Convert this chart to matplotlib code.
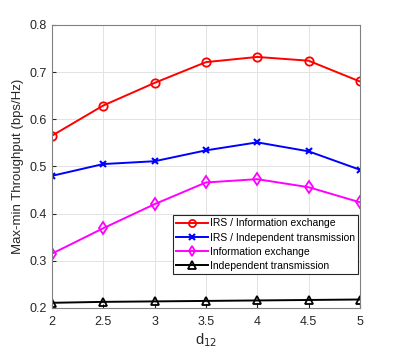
import numpy as np
import matplotlib.pyplot as plt

plt.rcParams['font.family'] = ['Liberation Sans', 'DejaVu Sans']

d12 = [2, 2.5, 3, 3.5, 4, 4.5, 5]
irs_exchange = [0.565, 0.629, 0.677, 0.721, 0.732, 0.724, 0.680]
irs_independent = [0.480, 0.505, 0.511, 0.534, 0.551, 0.532, 0.493]
info_exchange = [0.315, 0.369, 0.420, 0.466, 0.473, 0.456, 0.424]
independent = [0.211, 0.213, 0.214, 0.215, 0.216, 0.217, 0.218]

labels = ['IRS / Information exchange', 'IRS / Independent transmission',
          'Information exchange', 'Independent transmission']
xticks = [2, 2.5, 3, 3.5, 4, 4.5, 5]
yticks = [0.2, 0.3, 0.4, 0.5, 0.6, 0.7, 0.8]

fig = plt.figure(figsize=(3.99, 3.5), dpi=100)
ax = fig.add_axes([0.13, 0.12, 0.772, 0.809])

ax.plot(d12, irs_exchange, '-o', color='red', lw=1.4, ms=6, mfc='none', mew=1.3, label=labels[0])
ax.plot(d12, irs_independent, '-x', color='blue', lw=1.4, ms=5, mew=1.5, label=labels[1])
ax.plot(d12, info_exchange, '-d', color='magenta', lw=1.4, ms=6, mfc='none', mew=1.3, label=labels[2])
ax.plot(d12, independent, '-^', color='black', lw=1.4, ms=6, mfc='none', mew=1.3, label=labels[3])

ax.set_xlim(2, 5)
ax.set_ylim(0.2, 0.8)
ax.set_xticks(xticks)
ax.set_xticklabels(['2', '2.5', '3', '3.5', '4', '4.5', '5'])
ax.set_yticks(yticks)
ax.set_yticklabels(['0.2', '0.3', '0.4', '0.5', '0.6', '0.7', '0.8'])
ax.grid(True, color='#e3e3e3', lw=0.7)
ax.set_axisbelow(True)
ax.tick_params(direction='in', labelsize=9, colors='#262626', length=3)
ax.tick_params(axis='x', pad=6)
for s in ax.spines.values():
    s.set_color('#808080')
    s.set_linewidth(0.8)

ax.set_xlabel('d$_{12}$', fontsize=10.5, color='#262626', labelpad=2)
ax.set_ylabel('Max-min Throughput (bps/Hz)', fontsize=9.5, color='#262626')

leg = ax.legend(loc='lower right', bbox_to_anchor=(0.993, 0.12), fontsize=7.5,
                fancybox=False, edgecolor='#262626', framealpha=1,
                handlelength=3.0, handletextpad=0.2, borderpad=0.3, labelspacing=0.4,
                borderaxespad=0, markerscale=0.85)
leg.get_frame().set_linewidth(0.8)

fig.savefig('out.png', dpi=100)
